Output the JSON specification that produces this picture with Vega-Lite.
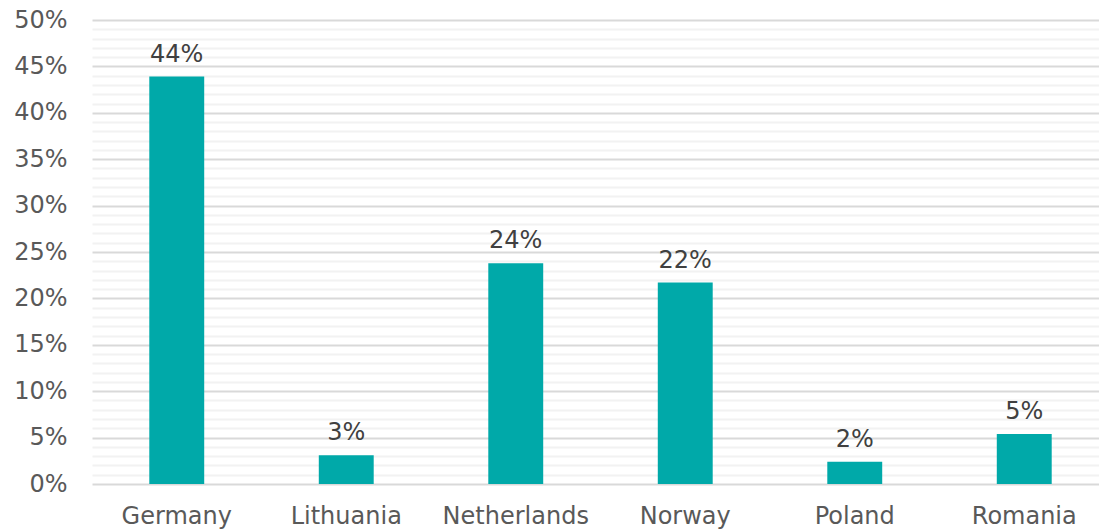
{
  "$schema": "https://vega.github.io/schema/vega-lite/v6.json",
  "autosize": "none",
  "padding": {"left": 92, "top": 20, "right": 0, "bottom": 47},
  "width": 1007,
  "height": 464,
  "background": "white",
  "config": {"view": {"stroke": null}, "font": "DejaVu Sans"},
  "data": {"values": [
    {"country": "Germany", "value": 0.439},
    {"country": "Lithuania", "value": 0.031},
    {"country": "Netherlands", "value": 0.238},
    {"country": "Norway", "value": 0.217},
    {"country": "Poland", "value": 0.024},
    {"country": "Romania", "value": 0.054}
  ]},
  "encoding": {
    "x": {
      "field": "country", "type": "nominal", "sort": null,
      "scale": {"range": [0, 1017], "paddingInner": 0.676, "paddingOuter": 0.338},
      "axis": {"title": null, "labelAngle": 0, "domain": false, "ticks": false, "grid": false,
               "labelFontSize": 24, "labelColor": "#595959", "labelPadding": 20}
    },
    "y": {
      "field": "value", "type": "quantitative",
      "scale": {"domain": [0, 0.5], "nice": false},
      "axis": {
        "title": null, "domain": false, "ticks": false,
        "values": [0,0.01,0.02,0.03,0.04,0.05,0.06,0.07,0.08,0.09,0.1,0.11,0.12,0.13,0.14,0.15,0.16,0.17,0.18,0.19,0.2,0.21,0.22,0.23,0.24,0.25,0.26,0.27,0.28,0.29,0.3,0.31,0.32,0.33,0.34,0.35,0.36,0.37,0.38,0.39,0.4,0.41,0.42,0.43,0.44,0.45,0.46,0.47,0.48,0.49,0.5],
        "labelExpr": "round(datum.value*100) % 5 === 0 ? format(datum.value, '.0%') : ''",
        "labelOverlap": false,
        "labelFontSize": 24, "labelColor": "#595959", "labelPadding": 25,
        "gridWidth": 2,
        "gridColor": {"condition": {"test": "round(datum.value*100) % 5 === 0", "value": "#d9d9d9"}, "value": "#f2f2f2"}
      }
    }
  },
  "layer": [
    {"mark": {"type": "bar", "color": "#00A9A9"}},
    {"mark": {"type": "text", "dy": -15, "baseline": "alphabetic", "fontSize": 24, "color": "#404040"},
     "encoding": {"text": {"field": "value", "type": "quantitative", "format": ".0%"}}}
  ]
}
